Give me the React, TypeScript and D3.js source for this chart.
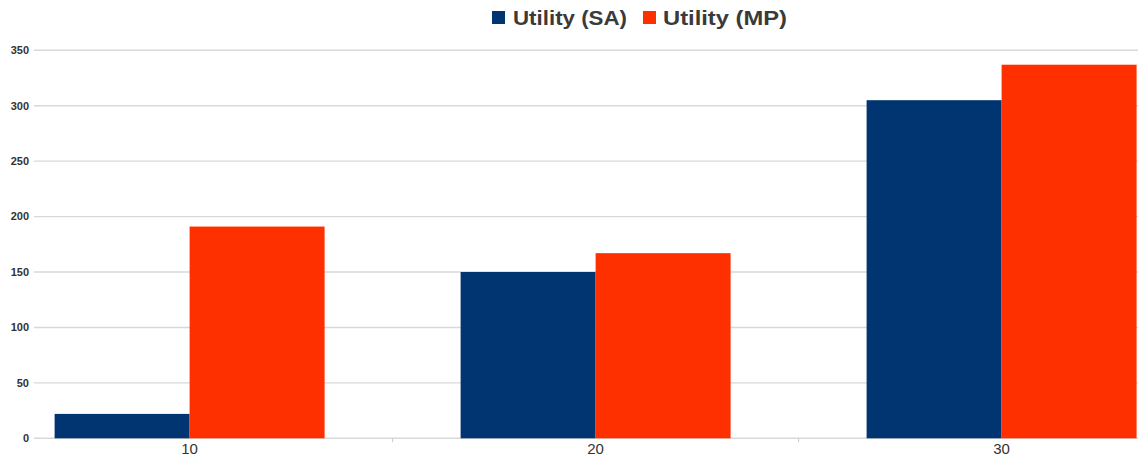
import React from "react";
import * as d3 from "d3";

// Group sizes on the x axis and the utility reached by each method
const categories = ["10", "20", "30"];
const seriesNames = ["Utility (SA)", "Utility (MP)"];
const utilitySA = [22, 150, 305];
const utilityMP = [191, 167, 337];
const yTicks = [0, 50, 100, 150, 200, 250, 300, 350];

const colors = ["#003571", "#ff3000"];
const W = 1138;
const H = 460;

export default function App() {
  const plotLeft = 34;
  const plotRight = W;
  const y = d3.scaleLinear().domain([0, 350]).range([438.3, 50.3]);
  const x0 = d3
    .scaleBand<string>()
    .domain(categories)
    .range([-13.4, 1204.6])
    .paddingInner(0.335)
    .paddingOuter(0.1675);
  const x1 = d3
    .scaleBand<string>()
    .domain(seriesNames)
    .range([0, x0.bandwidth()]);

  const series = [utilitySA, utilityMP];
  const step = x0.step();
  const gap = step - x0.bandwidth();
  const boundaries = categories
    .slice(0, -1)
    .map((c) => (x0(c) as number) + x0.bandwidth() + gap / 2);

  const font = "'Liberation Sans', Arial, sans-serif";

  return (
    <svg
      width={W}
      height={H}
      style={{ position: "absolute", left: 0, top: 0, background: "#fff" }}
      fontFamily={font}
    >
      <rect x={0} y={0} width={W} height={H} fill="#fff" />
      {/* horizontal gridlines */}
      {yTicks.map((t) => (
        <line
          key={"g" + t}
          x1={plotLeft}
          x2={plotRight}
          y1={y(t)}
          y2={y(t)}
          stroke="#d8d8d8"
          strokeWidth={1.4}
        />
      ))}
      {/* y tick labels */}
      {yTicks.map((t) => (
        <text
          key={"l" + t}
          x={29}
          y={y(t)}
          dy="0.35em"
          textAnchor="end"
          fontSize={11}
          fontWeight="bold"
          fill="#333"
        >
          {t}
        </text>
      ))}
      {/* bars */}
      {categories.map((c, i) => (
        <g key={c} transform={`translate(${x0(c)},0)`}>
          {series.map((s, j) => (
            <rect
              key={j}
              x={x1(seriesNames[j])}
              y={y(s[i])}
              width={x1.bandwidth()}
              height={y(0) - y(s[i])}
              fill={colors[j]}
            />
          ))}
        </g>
      ))}
      {/* category separator ticks */}
      {boundaries.map((b, i) => (
        <line
          key={"t" + i}
          x1={b}
          x2={b}
          y1={y(0)}
          y2={y(0) + 4}
          stroke="#c8c8c8"
          strokeWidth={1}
        />
      ))}
      {/* x labels */}
      {categories.map((c) => (
        <text
          key={"x" + c}
          x={(x0(c) as number) + x0.bandwidth() / 2}
          y={454}
          textAnchor="middle"
          fontSize={15}
          fill="#333"
        >
          {c}
        </text>
      ))}
      {/* legend */}
      <g>
        <rect x={492} y={11} width={13} height={13} fill={colors[0]} />
        <text
          x={513}
          y={25}
          fontSize={21}
          fontWeight="bold"
          fill="#3a3a3a"
          textLength={114}
          lengthAdjust="spacingAndGlyphs"
        >
          {seriesNames[0]}
        </text>
        <rect x={643} y={11} width={13} height={13} fill={colors[1]} />
        <text
          x={663}
          y={25}
          fontSize={21}
          fontWeight="bold"
          fill="#3a3a3a"
          textLength={124}
          lengthAdjust="spacingAndGlyphs"
        >
          {seriesNames[1]}
        </text>
      </g>
    </svg>
  );
}
